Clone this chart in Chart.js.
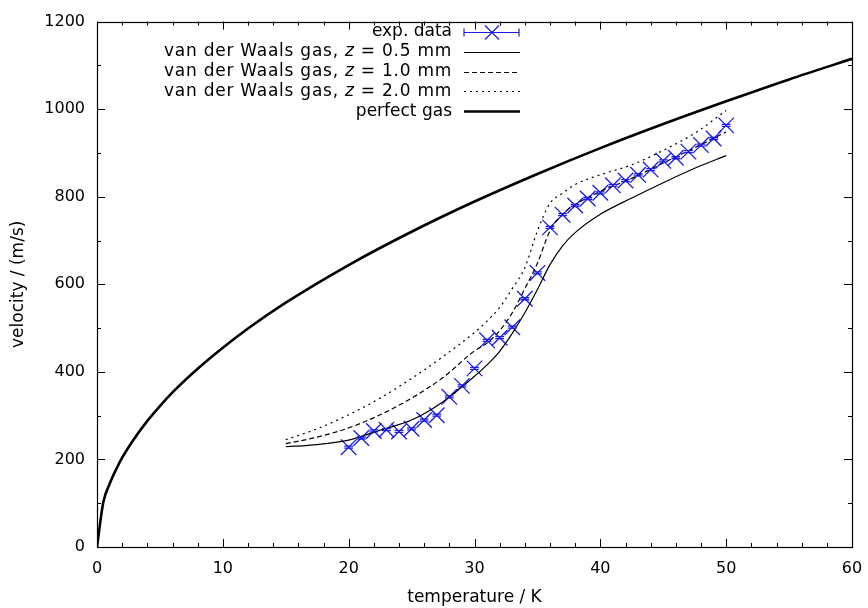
<!DOCTYPE html>
<html>
<head>
<meta charset="utf-8">
<script src="https://cdn.jsdelivr.net/npm/chart.js@4"></script>
<style>
  html, body { margin: 0; padding: 0; background: #fff; }
  #wrap { width: 868px; height: 608px; }
</style>
</head>
<body>
<div id="wrap"><canvas id="c" width="868" height="608"></canvas></div>
<script>
/* velocity vs temperature, exp. data vs van der Waals / perfect gas */
const FONT = "'DejaVu Sans', 'Liberation Sans', Arial, sans-serif";
const BLUE = "rgb(28,28,228)";

// measured points (temperature in K, velocity in m/s)
const expT = [20, 21, 22, 23, 24, 25, 26, 27, 28, 29, 30, 31, 32, 33, 34, 35, 36, 37, 38, 39, 40, 41, 42, 43, 44, 45, 46, 47, 48, 49, 50];
const expV = [228, 249, 265, 268, 264, 270, 290, 301, 343, 368, 408, 472, 478, 502, 567, 626, 730, 759, 780, 796, 809, 826, 837, 850, 862, 882, 889, 903, 918, 933, 963];
const expErr = 0.35;

// van der Waals curves
const vdwT = [15, 17.5, 20, 22.5, 25, 27.5, 30, 31, 32, 33, 34, 35, 36, 37, 38, 40, 42.5, 45, 47.5, 50];
const vdw05 = [229, 234, 244, 267, 290, 332, 390, 416, 447, 488, 535, 588, 645, 688, 718, 760, 797, 832, 865, 894];
const vdw10 = [236, 251, 272, 302, 340, 387, 448, 466, 494, 535, 590, 648, 722, 760, 782, 812, 842, 877, 912, 948];
const vdw20 = [245, 270, 302, 340, 385, 435, 490, 516, 547, 590, 638, 722, 785, 808, 828, 850, 873, 906, 945, 997];

// perfect gas
const idealT = [0, 0.5, 1, 1.5, 2, 3, 4, 5, 6, 8, 10, 12, 15, 20, 25, 30, 35, 40, 45, 50, 55, 60];
const idealV = [0, 102, 144, 176, 204, 249, 288, 322, 353, 407, 455, 499, 558, 644, 720, 789, 852, 911, 966, 1018, 1068, 1115];

const xTicks = [0, 10, 20, 30, 40, 50, 60];
const yTicks = [0, 200, 400, 600, 800, 1000, 1200];

const pts = (xs, ys) => xs.map((x, i) => ({ x: x, y: ys[i] }));

const legendRows = [
  { pre: "exp. data", kind: "exp" },
  { pre: "van der Waals gas, ", it: "z", post: " = 0.5 mm", kind: "line", dash: [], w: 1.2 },
  { pre: "van der Waals gas, ", it: "z", post: " = 1.0 mm", kind: "line", dash: [5, 3], w: 1.2 },
  { pre: "van der Waals gas, ", it: "z", post: " = 2.0 mm", kind: "line", dash: [2, 4], w: 1.2 },
  { pre: "perfect gas", kind: "line", dash: [], w: 2.6 },
];

const framePlugin = {
  id: "frame",
  afterDatasetsDraw(chart) {
    const { ctx, chartArea: a, scales } = chart;
    const xs = scales.x, ys = scales.y;
    ctx.save();
    ctx.strokeStyle = "#000";
    ctx.lineWidth = 1;
    ctx.beginPath();
    for (let v = 0; v <= 60; v += 2) {
      const p = Math.round(xs.getPixelForValue(v)) + 0.5;
      const len = v % 10 === 0 ? 8 : 4;
      ctx.moveTo(p, a.bottom); ctx.lineTo(p, a.bottom - len);
      ctx.moveTo(p, a.top); ctx.lineTo(p, a.top + len);
    }
    for (let v = 0; v <= 1200; v += 100) {
      const p = Math.round(ys.getPixelForValue(v)) + 0.5;
      const len = v % 200 === 0 ? 8 : 4;
      ctx.moveTo(a.left, p); ctx.lineTo(a.left + len, p);
      ctx.moveTo(a.right, p); ctx.lineTo(a.right - len, p);
    }
    ctx.stroke();
    ctx.lineWidth = 1.2;
    ctx.strokeRect(Math.round(a.left) + 0.5, Math.round(a.top) + 0.5, Math.round(a.right - a.left), Math.round(a.bottom - a.top));

    // x error bars on exp. data
    ctx.strokeStyle = BLUE;
    ctx.lineWidth = 1.3;
    ctx.beginPath();
    expT.forEach((t, i) => {
      const x0 = xs.getPixelForValue(t - expErr), x1 = xs.getPixelForValue(t + expErr);
      const y = ys.getPixelForValue(expV[i]);
      ctx.moveTo(x0, y - 1); ctx.lineTo(x1, y - 1);
      ctx.moveTo(x0, y + 1); ctx.lineTo(x1, y + 1);
    });
    ctx.stroke();

    // legend
    ctx.textBaseline = "middle";
    ctx.fillStyle = "#000";
    const right = 452, sx0 = 464, sx1 = 520;
    legendRows.forEach((r, i) => {
      const y = 32 + i * 19.8;
      let x = right;
      ctx.font = "17px " + FONT;
      ctx.textAlign = "right";
      ctx.letterSpacing = r.post ? "0.75px" : "0px";
      if (r.post) {
        const wPost = ctx.measureText(r.post).width;
        ctx.fillText(r.post, x, y);
        x -= wPost;
        ctx.font = "italic 17px " + FONT;
        const wIt = ctx.measureText(r.it).width;
        ctx.fillText(r.it, x, y);
        x -= wIt;
        ctx.font = "17px " + FONT;
      }
      ctx.fillText(r.pre, x, y);
      ctx.letterSpacing = "0px";

      const yy = Math.round(y) + 0.5;
      ctx.beginPath();
      if (r.kind === "exp") {
        ctx.strokeStyle = BLUE;
        ctx.lineWidth = 1.2;
        ctx.setLineDash([]);
        ctx.moveTo(sx0, yy); ctx.lineTo(sx1 - 1, yy);
        ctx.moveTo(sx0, yy - 4); ctx.lineTo(sx0, yy + 4);
        ctx.moveTo(sx1 - 1, yy - 4); ctx.lineTo(sx1 - 1, yy + 4);
        const cx = (sx0 + sx1) / 2, d = 7;
        ctx.moveTo(cx - d, yy - d); ctx.lineTo(cx + d, yy + d);
        ctx.moveTo(cx - d, yy + d); ctx.lineTo(cx + d, yy - d);
      } else {
        ctx.strokeStyle = "#000";
        ctx.lineWidth = r.w;
        ctx.setLineDash(r.dash);
        ctx.moveTo(sx0, yy); ctx.lineTo(sx1, yy);
      }
      ctx.stroke();
      ctx.setLineDash([]);
    });
    ctx.restore();
  },
};

const lineDs = (label, data, dash, width) => ({
  label: label,
  data: data,
  borderColor: "#000",
  borderWidth: width,
  borderDash: dash,
  pointRadius: 0,
  fill: false,
  cubicInterpolationMode: "monotone",
});

new Chart(document.getElementById("c"), {
  type: "line",
  data: {
    datasets: [
      lineDs("perfect gas", pts(idealT, idealV), [], 2.6),
      lineDs("van der Waals gas, z = 0.5 mm", pts(vdwT, vdw05), [], 1.2),
      lineDs("van der Waals gas, z = 1.0 mm", pts(vdwT, vdw10), [5, 3], 1.2),
      lineDs("van der Waals gas, z = 2.0 mm", pts(vdwT, vdw20), [2, 4], 1.2),
      {
        label: "exp. data",
        data: pts(expT, expV),
        showLine: false,
        pointStyle: "crossRot",
        pointRadius: 11,
        pointHoverRadius: 11,
        borderColor: BLUE,
        backgroundColor: BLUE,
        pointBorderWidth: 1.3,
      },
    ],
  },
  options: {
    responsive: false,
    animation: false,
    events: [],
    layout: { padding: { left: 8, right: 16, top: 15, bottom: 0 } },
    plugins: { legend: { display: false }, tooltip: { enabled: false } },
    scales: {
      x: {
        type: "linear",
        min: 0,
        max: 60,
        afterBuildTicks: (s) => { s.ticks = xTicks.map((v) => ({ value: v })); },
        afterFit: (s) => { s.height = 61; s.paddingRight = 0; s.paddingLeft = 0; },
        grid: { display: false, drawTicks: false },
        border: { display: false },
        ticks: { color: "#000", font: { family: FONT, size: 16 }, padding: 12, maxRotation: 0, callback: (v) => String(v) },
        title: { display: true, text: "temperature / K", color: "#000", font: { family: FONT, size: 17 }, padding: { top: 3, bottom: 0 } },
      },
      y: {
        type: "linear",
        min: 0,
        max: 1200,
        afterBuildTicks: (s) => { s.ticks = yTicks.map((v) => ({ value: v })); },
        afterFit: (s) => { s.width = 89; },
        grid: { display: false, drawTicks: false },
        border: { display: false },
        ticks: { color: "#000", font: { family: FONT, size: 16 }, padding: 12, callback: (v) => String(v) },
        title: { display: true, text: "velocity / (m/s)", color: "#000", font: { family: FONT, size: 17 }, padding: { top: 0, bottom: 4 } },
      },
    },
  },
  plugins: [framePlugin],
});
</script>
</body>
</html>
